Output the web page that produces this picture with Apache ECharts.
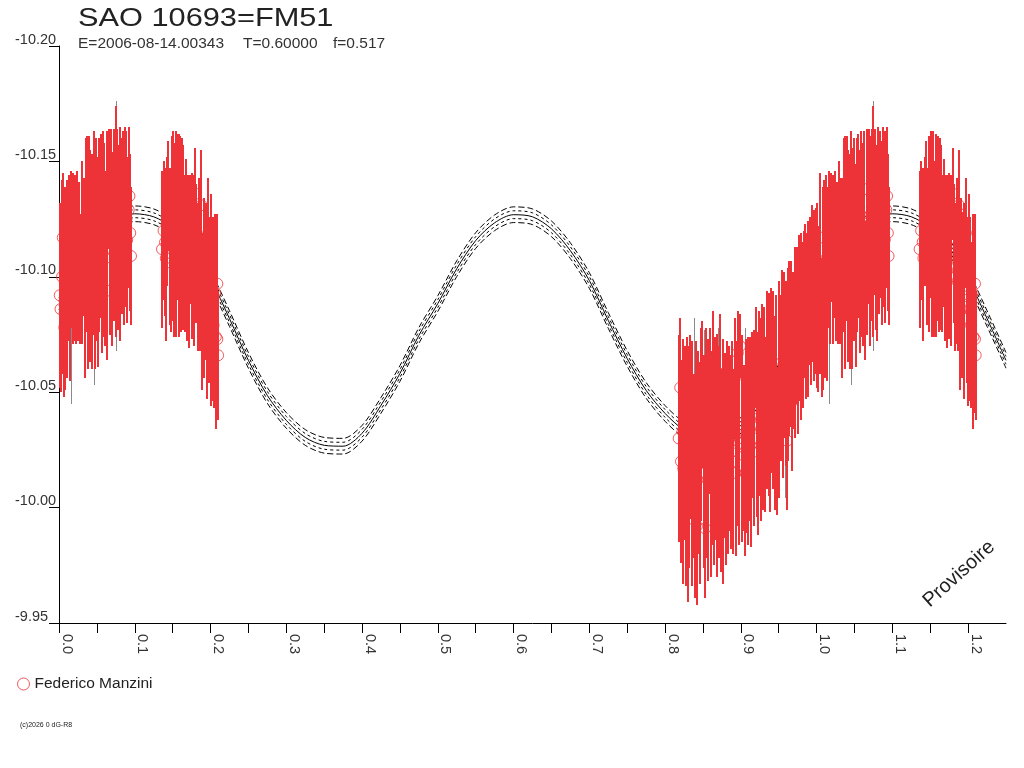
<!DOCTYPE html>
<html>
<head>
<meta charset="utf-8">
<title>SAO 10693=FM51</title>
<script src="https://cdn.jsdelivr.net/npm/echarts@6.0.0/dist/echarts.min.js"></script>
<style>
  html, body { margin: 0; padding: 0; background: #fff; }
  #chart { width: 1024px; height: 768px; }
</style>
</head>
<body>
<div id="chart"></div>
<script>
// points are [phase, magnitude, error]
const clusterEarly = [
  [0.001, -10.092, 0.040], [0.002, -10.086, 0.036], [0.004, -10.100, 0.042], [0.005, -10.117, 0.028],
  [0.007, -10.078, 0.030], [0.008, -10.095, 0.044], [0.010, -10.104, 0.038], [0.011, -10.090, 0.034],
  [0.013, -10.108, 0.036], [0.014, -10.097, 0.042], [0.016, -10.112, 0.034], [0.018, -10.103, 0.032],
  [0.019, -10.117, 0.028], [0.021, -10.108, 0.036], [0.022, -10.101, 0.030], [0.024, -10.114, 0.032],
  [0.025, -10.106, 0.034], [0.027, -10.111, 0.030], [0.028, -10.099, 0.028], [0.030, -10.116, 0.034],
  [0.031, -10.107, 0.036], [0.033, -10.113, 0.030], [0.034, -10.086, 0.030], [0.036, -10.118, 0.042],
  [0.037, -10.127, 0.034], [0.038, -10.104, 0.044], [0.040, -10.121, 0.040], [0.041, -10.109, 0.046],
  [0.043, -10.115, 0.038], [0.044, -10.102, 0.042], [0.046, -10.119, 0.044], [0.047, -10.108, 0.048],
  [0.049, -10.124, 0.036], [0.050, -10.112, 0.040], [0.052, -10.105, 0.044], [0.053, -10.118, 0.042],
  [0.055, -10.122, 0.040], [0.057, -10.111, 0.044], [0.058, -10.127, 0.036], [0.060, -10.116, 0.042],
  [0.061, -10.108, 0.038], [0.063, -10.123, 0.040], [0.064, -10.094, 0.030], [0.066, -10.138, 0.026],
  [0.067, -10.119, 0.044], [0.069, -10.126, 0.038], [0.070, -10.112, 0.042], [0.072, -10.121, 0.040],
  [0.073, -10.130, 0.034], [0.075, -10.124, 0.050], [0.077, -10.128, 0.036], [0.078, -10.117, 0.040],
  [0.080, -10.104, 0.032], [0.081, -10.131, 0.034], [0.083, -10.122, 0.038], [0.084, -10.127, 0.036],
  [0.086, -10.119, 0.040], [0.087, -10.133, 0.032], [0.089, -10.125, 0.038], [0.090, -10.116, 0.036],
  [0.092, -10.129, 0.034], [0.093, -10.135, 0.030], [0.094, -10.119, 0.034], [0.095, -10.109, 0.030]
];

const clusterMid = [
  [0.136, -10.112, 0.034], [0.138, -10.120, 0.030], [0.140, -10.115, 0.032], [0.141, -10.108, 0.036],
  [0.143, -10.124, 0.028], [0.144, -10.135, 0.024], [0.146, -10.113, 0.034], [0.148, -10.106, 0.030],
  [0.149, -10.121, 0.040], [0.151, -10.127, 0.036], [0.152, -10.116, 0.042], [0.154, -10.123, 0.040],
  [0.155, -10.112, 0.038], [0.157, -10.126, 0.036], [0.158, -10.118, 0.044], [0.160, -10.121, 0.040],
  [0.161, -10.114, 0.038], [0.163, -10.124, 0.036], [0.164, -10.117, 0.040], [0.166, -10.110, 0.034],
  [0.168, -10.119, 0.032], [0.169, -10.108, 0.036], [0.171, -10.114, 0.030], [0.172, -10.103, 0.034],
  [0.174, -10.116, 0.028], [0.175, -10.109, 0.036], [0.177, -10.112, 0.032], [0.178, -10.104, 0.034],
  [0.180, -10.136, 0.020], [0.181, -10.110, 0.030], [0.183, -10.100, 0.032], [0.185, -10.107, 0.036],
  [0.186, -10.098, 0.030], [0.188, -10.131, 0.024], [0.189, -10.085, 0.034], [0.191, -10.102, 0.032],
  [0.192, -10.092, 0.036], [0.194, -10.098, 0.034], [0.195, -10.087, 0.040], [0.197, -10.119, 0.024],
  [0.198, -10.090, 0.036], [0.200, -10.082, 0.038], [0.201, -10.106, 0.030], [0.203, -10.086, 0.040],
  [0.204, -10.079, 0.036], [0.206, -10.093, 0.034], [0.207, -10.074, 0.040], [0.209, -10.097, 0.030],
  [0.209, -10.073, 0.032], [0.210, -10.066, 0.028]
];

const clusterLate = [
  [0.818, -10.030, 0.045], [0.820, -10.052, 0.030], [0.821, -10.020, 0.044], [0.823, -10.033, 0.040],
  [0.824, -10.017, 0.050], [0.826, -10.028, 0.042], [0.827, -10.012, 0.046], [0.829, -10.036, 0.038],
  [0.830, -9.995, 0.036], [0.832, -10.022, 0.048], [0.833, -10.035, 0.040], [0.835, -10.010, 0.044],
  [0.836, -10.026, 0.046], [0.838, -10.018, 0.040], [0.840, -10.001, 0.040], [0.841, -10.030, 0.042],
  [0.842, -9.992, 0.034], [0.844, -10.024, 0.044], [0.846, -10.015, 0.048], [0.848, -10.036, 0.042],
  [0.849, -10.049, 0.032], [0.851, -10.020, 0.046], [0.853, -9.991, 0.030], [0.854, -10.028, 0.050],
  [0.856, -10.012, 0.044], [0.857, -10.033, 0.040], [0.859, -10.042, 0.036], [0.860, -10.018, 0.048],
  [0.862, -10.026, 0.042], [0.863, -10.057, 0.028], [0.865, -10.021, 0.046], [0.866, -10.030, 0.044],
  [0.868, -10.010, 0.040], [0.869, -10.037, 0.038], [0.871, -10.024, 0.046], [0.873, -10.058, 0.026],
  [0.874, -10.016, 0.044], [0.876, -10.031, 0.042], [0.877, -10.003, 0.036], [0.879, -10.027, 0.040],
  [0.880, -10.019, 0.044], [0.882, -10.034, 0.038], [0.883, -10.022, 0.042], [0.885, -10.030, 0.040],
  [0.887, -10.024, 0.042], [0.888, -10.036, 0.036], [0.890, -10.020, 0.040], [0.892, -10.056, 0.026],
  [0.893, -10.015, 0.036], [0.895, -10.032, 0.040], [0.896, -10.067, 0.018], [0.898, -10.028, 0.044],
  [0.899, -10.070, 0.014], [0.901, -10.023, 0.038], [0.902, -10.035, 0.040], [0.904, -10.026, 0.036],
  [0.906, -10.015, 0.036], [0.907, -10.031, 0.042], [0.909, -10.038, 0.036], [0.910, -10.022, 0.038],
  [0.912, -10.034, 0.040], [0.913, -10.027, 0.044], [0.915, -10.040, 0.036], [0.917, -10.030, 0.038],
  [0.918, -10.043, 0.034], [0.920, -10.065, 0.022], [0.921, -10.036, 0.040], [0.923, -10.024, 0.036],
  [0.924, -10.045, 0.040], [0.926, -10.038, 0.044], [0.928, -10.050, 0.038], [0.929, -10.041, 0.042],
  [0.931, -10.047, 0.040], [0.932, -10.036, 0.038], [0.934, -10.052, 0.042], [0.935, -10.044, 0.036],
  [0.937, -10.049, 0.044], [0.939, -10.032, 0.034], [0.940, -10.055, 0.040], [0.942, -10.046, 0.038],
  [0.943, -10.058, 0.036], [0.945, -10.041, 0.042], [0.946, -10.052, 0.040], [0.948, -10.029, 0.032],
  [0.950, -10.060, 0.038], [0.951, -10.048, 0.044], [0.953, -10.056, 0.036], [0.954, -10.063, 0.040],
  [0.956, -10.051, 0.038], [0.957, -10.066, 0.036], [0.959, -10.058, 0.040], [0.961, -10.029, 0.030],
  [0.962, -10.062, 0.042], [0.964, -10.069, 0.038], [0.966, -10.071, 0.036], [0.968, -10.046, 0.030],
  [0.969, -10.068, 0.034], [0.971, -10.075, 0.038], [0.972, -10.066, 0.036], [0.974, -10.079, 0.034],
  [0.975, -10.072, 0.040], [0.977, -10.082, 0.036], [0.979, -10.076, 0.038], [0.980, -10.085, 0.034],
  [0.982, -10.079, 0.036], [0.983, -10.088, 0.032], [0.985, -10.093, 0.030], [0.986, -10.083, 0.036],
  [0.988, -10.090, 0.034], [0.989, -10.086, 0.038], [0.991, -10.094, 0.032], [0.993, -10.089, 0.036],
  [0.994, -10.097, 0.034], [0.996, -10.091, 0.036], [0.997, -10.099, 0.030], [0.999, -10.094, 0.036]
];

// a few longer error bars drawn in grey behind the red ones
const greyBars = [
  [0.016, -10.095, 0.050], [0.046, -10.105, 0.052], [0.075, -10.122, 0.054], [0.207, -10.080, 0.046],
  [0.838, -10.024, 0.058], [0.852, -10.020, 0.057], [0.870, -10.028, 0.050], [0.905, -10.030, 0.048],
  [0.958, -10.050, 0.046]
];

// fitted light curve, one cycle of phase
const curvePhase = [0, 0.025, 0.05, 0.075, 0.1, 0.125, 0.15, 0.175, 0.2, 0.225, 0.25, 0.275, 0.3, 0.325,
  0.35, 0.375, 0.4, 0.425, 0.45, 0.475, 0.5, 0.525, 0.55, 0.575, 0.6, 0.625, 0.65, 0.675, 0.7, 0.725,
  0.75, 0.775, 0.8, 0.825, 0.85, 0.875, 0.9, 0.925, 0.95, 0.975, 1.0];
const curveMag = [-10.0875, -10.1061, -10.1178, -10.1252, -10.1273, -10.1260, -10.1213, -10.1126, -10.0992,
  -10.0819, -10.0638, -10.0486, -10.0378, -10.0304, -10.0270, -10.0266, -10.0322, -10.0443, -10.0581,
  -10.0746, -10.0884, -10.1035, -10.1157, -10.1234, -10.1269, -10.1260, -10.1208, -10.1113, -10.0984,
  -10.0811, -10.0646, -10.0508, -10.0408, -10.0335, -10.0292, -10.0300, -10.0356, -10.0465, -10.0586,
  -10.0724, -10.0875];
// spread of the dashed lines around the fit
const bandOffset = [-0.0034, -0.0017, 0.0017, 0.0034];

const RED = '#ee3338';
const PHASE_MAX = 1.25;

// phases repeat after 1.0, so points below 0.25 are also shown at phase + 1
function wrap(list) {
    var out = list.slice();
    list.forEach(function (p) {
        if (p[0] + 1 <= PHASE_MAX) out.push([p[0] + 1].concat(p.slice(1)));
    });
    return out;
}

var points = wrap(clusterEarly.concat(clusterMid, clusterLate));
var grey = wrap(greyBars);

var curve = [];
curvePhase.forEach(function (ph, i) { curve.push([ph, curveMag[i]]); });
curvePhase.forEach(function (ph, i) {
    if (ph > 0 && ph + 1 <= PHASE_MAX) curve.push([ph + 1, curveMag[i]]);
});

// vertical error bar from mag-err to mag+err, snapped to pixels so it stays crisp
function errorBars(color, width) {
    return function (params, api) {
        var x = api.value(0), m = api.value(1), e = api.value(2);
        var a = api.coord([x, m - e]);
        var b = api.coord([x, m + e]);
        var px = Math.round(a[0]) + (width % 2 ? 0.5 : 0);
        return {
            type: 'line',
            shape: { x1: px, y1: Math.round(a[1]), x2: px, y2: Math.round(b[1]) },
            style: { stroke: color, lineWidth: width }
        };
    };
}

var series = [];
// band lines
bandOffset.forEach(function (off) {
    series.push({
        type: 'line',
        silent: true,
        showSymbol: false,
        smooth: 0.3,
        z: 2,
        lineStyle: { color: '#000', width: 1, type: Math.abs(off) > 0.002 ? [6, 3] : [3, 3] },
        data: curve.map(function (p) { return [p[0], p[1] + off]; })
    });
});
series.push({
    type: 'line',
    silent: true,
    showSymbol: false,
    smooth: 0.3,
    z: 2,
    lineStyle: { color: '#000', width: 1 },
    data: curve
});
series.push({
    type: 'custom',
    silent: true,
    z: 3,
    renderItem: errorBars('#8a8a8a', 1),
    encode: { x: 0, y: 1 },
    data: grey
});
series.push({
    type: 'custom',
    silent: true,
    z: 4,
    renderItem: errorBars(RED, 2),
    encode: { x: 0, y: 1 },
    data: points
});
series.push({
    name: 'Federico Manzini',
    type: 'scatter',
    symbol: 'circle',
    symbolSize: 11,
    z: 5,
    itemStyle: { color: 'rgba(0,0,0,0)', borderColor: RED, borderWidth: 1 },
    data: points.map(function (p) { return [p[0], p[1]]; })
});

var chart = echarts.init(document.getElementById('chart'));
chart.setOption({
    animation: false,
    backgroundColor: '#fff',
    grid: { left: 59, right: 18, top: 46, bottom: 145 },
    legend: {
        left: 12,
        top: 671,
        itemWidth: 12,
        itemHeight: 12,
        icon: 'circle',
        itemStyle: { color: '#fff', borderColor: RED, borderWidth: 1 },
        textStyle: { fontFamily: 'Liberation Sans', fontSize: 15.5, color: '#222' },
        data: ['Federico Manzini']
    },
    xAxis: {
        type: 'value',
        min: 0,
        max: PHASE_MAX,
        interval: 0.05,
        axisLine: { lineStyle: { color: '#000', width: 1 } },
        axisTick: { length: 10, lineStyle: { color: '#000' } },
        splitLine: { show: false },
        axisLabel: {
            rotate: -90,
            margin: 11,
            verticalAlign: 'bottom',
            fontFamily: 'Liberation Sans',
            fontSize: 14.5,
            color: '#333',
            showMaxLabel: false,
            formatter: function (v) {
                var k = Math.round(v * 100);
                return k % 10 === 0 ? (k / 100).toFixed(1) : '';
            }
        }
    },
    yAxis: {
        type: 'value',
        inverse: true,
        min: -10.20,
        max: -9.95,
        interval: 0.05,
        axisLine: { show: true, lineStyle: { color: '#000', width: 1 } },
        axisTick: { show: true, length: 10, lineStyle: { color: '#000' } },
        splitLine: { show: false },
        axisLabel: {
            align: 'left',
            verticalAlign: 'bottom',
            lineHeight: 13,
            margin: 44,
            fontFamily: 'Liberation Sans',
            fontSize: 14.5,
            color: '#333',
            formatter: function (v) { return v.toFixed(2); }
        }
    },
    graphic: [
        {
            type: 'text', x: 78, y: 19, scaleX: 1.16,
            style: { text: 'SAO 10693=FM51', x: 0, y: 0, fontFamily: 'Liberation Sans', fontSize: 26.5,
                     fill: '#222', verticalAlign: 'middle' }
        },
        {
            type: 'text', x: 78, y: 43.5,
            style: { text: 'E=2006-08-14.00343', fontFamily: 'Liberation Sans', fontSize: 15.5,
                     fill: '#333', verticalAlign: 'middle' }
        },
        {
            type: 'text', x: 243, y: 43.5,
            style: { text: 'T=0.60000', fontFamily: 'Liberation Sans', fontSize: 15.5,
                     fill: '#333', verticalAlign: 'middle' }
        },
        {
            type: 'text', x: 333, y: 43.5,
            style: { text: 'f=0.517', fontFamily: 'Liberation Sans', fontSize: 15.5,
                     fill: '#333', verticalAlign: 'middle' }
        },
        {
            type: 'text', x: 959, y: 574, rotation: 42 * Math.PI / 180,
            style: { text: 'Provisoire', fontFamily: 'Liberation Sans', fontSize: 20,
                     fill: '#222', align: 'center', verticalAlign: 'middle' }
        },
        {
            type: 'text', x: 20, y: 725,
            style: { text: '(c)2026 0 dG-R8', fontFamily: 'Liberation Sans', fontSize: 7,
                     fill: '#222', verticalAlign: 'middle' }
        }
    ],
    series: series
});
</script>
</body>
</html>
